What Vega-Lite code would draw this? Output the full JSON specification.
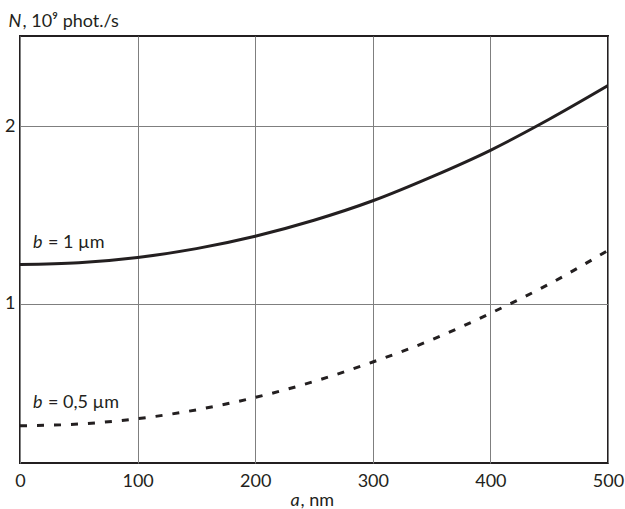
{
  "$schema": "https://vega.github.io/schema/vega-lite/v6.json",
  "autosize": "none",
  "width": 588,
  "height": 427,
  "padding": {"left": 20, "top": 36, "right": 17, "bottom": 46},
  "background": "white",
  "config": {
    "view": {"stroke": "#231f20", "strokeWidth": 2},
    "axis": {"domain": false, "ticks": false, "labelFont": "Lato", "labelFontSize": 18, "labelColor": "#231f20", "titleFont": "Lato", "titleFontSize": 18, "titleColor": "#231f20", "titleFontWeight": "normal"}
  },
  "datasets": {
    "curves": [
      {"a": 0, "N": 1.22, "b": "1"},
      {"a": 50, "N": 1.23, "b": "1"},
      {"a": 100, "N": 1.26, "b": "1"},
      {"a": 150, "N": 1.31, "b": "1"},
      {"a": 200, "N": 1.38, "b": "1"},
      {"a": 250, "N": 1.47, "b": "1"},
      {"a": 300, "N": 1.58, "b": "1"},
      {"a": 350, "N": 1.715, "b": "1"},
      {"a": 400, "N": 1.865, "b": "1"},
      {"a": 450, "N": 2.04, "b": "1"},
      {"a": 500, "N": 2.23, "b": "1"},
      {"a": 0, "N": 0.31, "b": "0.5"},
      {"a": 50, "N": 0.32, "b": "0.5"},
      {"a": 100, "N": 0.35, "b": "0.5"},
      {"a": 150, "N": 0.4, "b": "0.5"},
      {"a": 200, "N": 0.47, "b": "0.5"},
      {"a": 250, "N": 0.56, "b": "0.5"},
      {"a": 300, "N": 0.67, "b": "0.5"},
      {"a": 350, "N": 0.795, "b": "0.5"},
      {"a": 400, "N": 0.945, "b": "0.5"},
      {"a": 450, "N": 1.11, "b": "0.5"},
      {"a": 500, "N": 1.3, "b": "0.5"}
    ],
    "labels": [
      {"a": 11, "N": 1.316, "sym": "b", "rest": "= 1 µm"},
      {"a": 11, "N": 0.413, "sym": "b", "rest": "= 0,5 µm"}
    ]
  },
  "layer": [
    {
      "data": {"name": "curves"},
      "transform": [{"filter": "datum.b === '1'"}],
      "mark": {"type": "line", "color": "#231f20", "strokeWidth": 3, "interpolate": "monotone", "clip": true},
      "encoding": {
        "x": {"field": "a", "type": "quantitative", "scale": {"domain": [0, 500], "nice": false},
          "axis": {"orient": "bottom", "values": [0, 100, 200, 300, 400, 500], "grid": true, "gridColor": "#7f7f7f", "gridWidth": 1, "labelPadding": 9, "labelFlush": false,
            "title": "a", "titleFontStyle": "italic", "titleX": 270, "titleY": 42, "titleAlign": "left", "titleBaseline": "alphabetic", "titleAnchor": null}},
        "y": {"field": "N", "type": "quantitative", "scale": {"domain": [0.1, 2.51], "nice": false, "zero": false},
          "axis": {"orient": "left", "values": [1, 2], "grid": true, "gridColor": "#7f7f7f", "gridWidth": 1, "labelPadding": 5, "labelFlush": false,
            "title": "N", "titleFontStyle": "italic", "titleAngle": 0, "titleX": -12, "titleY": -10, "titleAlign": "left", "titleBaseline": "alphabetic"}}
      }
    },
    {
      "data": {"name": "curves"},
      "transform": [{"filter": "datum.b === '0.5'"}],
      "mark": {"type": "line", "color": "#231f20", "strokeWidth": 3, "strokeDash": [7, 10], "interpolate": "monotone", "clip": true},
      "encoding": {
        "x": {"field": "a", "type": "quantitative",
          "axis": {"orient": "top", "labels": false, "grid": false,
            "title": ", nm", "titleX": 280, "titleY": 469, "titleAlign": "left", "titleBaseline": "alphabetic"}},
        "y": {"field": "N", "type": "quantitative",
          "axis": {"orient": "right", "labels": false, "grid": false,
            "title": ", 10⁹ phot./s", "titleAngle": 0, "titleX": -586, "titleY": -10, "titleAlign": "left", "titleBaseline": "alphabetic"}}
      }
    },
    {
      "data": {"name": "labels"},
      "mark": {"type": "text", "font": "Lato", "fontSize": 18, "fontStyle": "italic", "color": "#231f20", "align": "left", "baseline": "alphabetic"},
      "encoding": {
        "x": {"field": "a", "type": "quantitative", "axis": null},
        "y": {"field": "N", "type": "quantitative", "axis": null},
        "text": {"field": "sym"}
      }
    },
    {
      "data": {"name": "labels"},
      "mark": {"type": "text", "font": "Lato", "fontSize": 18, "color": "#231f20", "align": "left", "baseline": "alphabetic", "dx": 15},
      "encoding": {
        "x": {"field": "a", "type": "quantitative", "axis": null},
        "y": {"field": "N", "type": "quantitative", "axis": null},
        "text": {"field": "rest"}
      }
    }
  ],
  "resolve": {"axis": {"x": "independent", "y": "independent"}}
}
